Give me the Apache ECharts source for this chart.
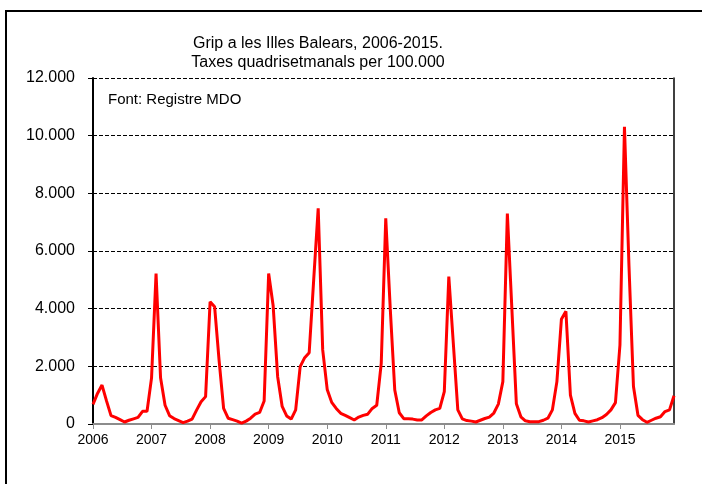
<!DOCTYPE html>
<html>
<head>
<meta charset="utf-8">
<script src="https://cdn.jsdelivr.net/npm/echarts@6/dist/echarts.min.js"></script>
<style>
  html, body { margin: 0; padding: 0; background: #fff; }
  #chart { width: 702px; height: 484px; }
</style>
</head>
<body>
<div id="chart"></div>
<script>
// taxes quadrisetmanals (13 periodes per any), llegides del grafic
const years = ['2006', '2007', '2008', '2009', '2010', '2011', '2012', '2013', '2014', '2015']
const rates2006 = [680, 1060, 1350, 800, 290, 230, 150, 70, 130, 180, 230, 440, 440]
const rates2007 = [1600, 5220, 1600, 650, 290, 190, 120, 50, 100, 170, 480, 770, 950]
const rates2008 = [4240, 4070, 2200, 540, 200, 150, 100, 30, 100, 200, 340, 400, 800]
const rates2009 = [5220, 4100, 1640, 610, 280, 170, 490, 1990, 2300, 2470, 5000, 7480, 2570]
const rates2010 = [1200, 750, 540, 370, 300, 220, 140, 240, 300, 340, 540, 650, 2100]
const rates2011 = [7130, 4000, 1180, 390, 185, 185, 170, 140, 140, 280, 400, 490, 540]
const rates2012 = [1120, 5110, 2800, 490, 180, 120, 100, 70, 130, 190, 240, 380, 690]
const rates2013 = [1470, 7300, 4000, 700, 250, 110, 80, 80, 80, 130, 200, 490, 1470]
const rates2014 = [3630, 3910, 1000, 370, 130, 110, 70, 110, 150, 220, 330, 490, 740]
const rates2015 = [2740, 10310, 5500, 1300, 300, 150, 60, 130, 200, 250, 430, 490, 980]
const yTicks = ['0', '2.000', '4.000', '6.000', '8.000', '10.000', '12.000']

const rates = [].concat(rates2006, rates2007, rates2008, rates2009, rates2010,
  rates2011, rates2012, rates2013, rates2014, rates2015)

// una categoria per periode: "2006-1" ... "2015-13"
let categories = []
years.forEach(y => {
  for (let p = 1; p <= 13; p++) categories.push(y + '-' + p)
})

const font = '"Liberation Sans", Arial, sans-serif'

let myChart = echarts.init(document.getElementById('chart'))
myChart.setOption({
  animation: false,
  textStyle: { fontFamily: font },
  title: {
    text: 'Grip a les Illes Balears, 2006-2015.\nTaxes quadrisetmanals per 100.000',
    left: 313,
    top: 29,
    textAlign: 'center',
    textStyle: {
      fontFamily: font,
      fontSize: 16,
      fontWeight: 'normal',
      color: '#000',
      lineHeight: 19,
    },
  },
  graphic: [
    {
      // marc exterior
      type: 'rect',
      shape: { x: 6, y: 11, width: 720, height: 500 },
      style: { fill: 'none', stroke: '#000', lineWidth: 2 },
      silent: true,
    },
    {
      type: 'text',
      left: 108,
      top: 92,
      style: { text: 'Font: Registre MDO', font: '15px ' + font, fill: '#000' },
    },
  ],
  grid: {
    left: 93,
    right: 28,
    top: 78,
    bottom: 60,
  },
  xAxis: {
    type: 'category',
    boundaryGap: false,
    data: categories,
    axisLine: { lineStyle: { color: '#8c8c8c', width: 2 } },
    axisTick: {
      interval: 12,
      length: 5,
      lineStyle: { color: '#8c8c8c', width: 1 },
    },
    axisLabel: {
      interval: 12,
      margin: 9,
      fontSize: 14,
      color: '#000',
      formatter: v => v.split('-')[0],
    },
    splitLine: { show: false },
  },
  yAxis: [
    {
      type: 'value',
      min: 0,
      max: 12000,
      interval: 2000,
      axisLine: { show: true, lineStyle: { color: '#000', width: 2 } },
      axisTick: { show: true, length: 5, lineStyle: { color: '#000' } },
      axisLabel: {
        fontSize: 16,
        color: '#000',
        margin: 18,
        formatter: v => yTicks[v / 2000],
      },
      splitLine: {
        lineStyle: { color: '#000', type: [4, 2], width: 1 },
      },
    },
    {
      // vora dreta de l'area del grafic
      type: 'value',
      position: 'right',
      min: 0,
      max: 12000,
      interval: 2000,
      axisLine: { show: true, lineStyle: { color: '#000', width: 1.5 } },
      axisTick: { show: false },
      axisLabel: { show: false },
      splitLine: { show: false },
    },
  ],
  series: {
    type: 'line',
    data: rates,
    showSymbol: false,
    lineStyle: { color: '#ff0000', width: 3 },
  },
})
</script>
</body>
</html>
